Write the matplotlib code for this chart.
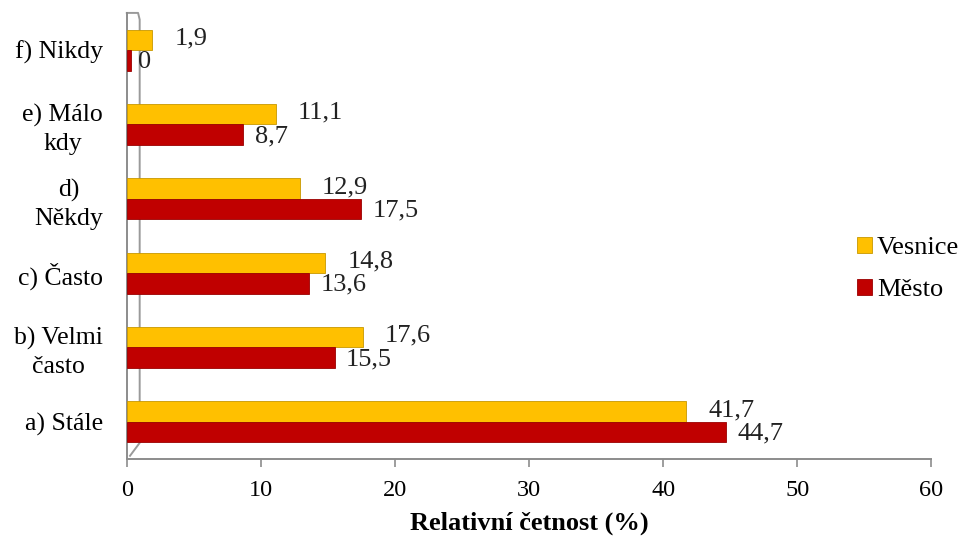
import matplotlib.pyplot as plt
import numpy as np

plt.rcParams['font.family'] = ['Liberation Serif', 'DejaVu Serif']

categories = ['a) Stále', 'b) Velmi\nčasto', 'c) Často', 'd)\nNěkdy', 'e) Málo\nkdy', 'f) Nikdy']
vesnice = [41.7, 17.6, 14.8, 12.9, 11.1, 1.9]
mesto = [44.7, 15.5, 13.6, 17.5, 8.7, 0.0]
vesnice_labels = ['41,7', '17,6', '14,8', '12,9', '11,1', '1,9']
mesto_labels = ['44,7', '15,5', '13,6', '17,5', '8,7', '0']

fs_cat = 18.5
fs_tick = 17.5
fs_big = 19
fig = plt.figure(figsize=(9.68, 5.38), dpi=100)
ax = fig.add_axes([0.131, 0.147, 0.831, 0.829])

y = np.arange(len(categories))
h = 0.276
gray = '#8c8c8c'

# mesto bar for 0 is a thin sliver in the original
mesto_draw = [v if v > 0 else 0.3 for v in mesto]
b1 = ax.barh(y + h / 2, vesnice, height=h, color='#FFC000', edgecolor='#C89800', linewidth=0.6, label='Vesnice', zorder=3)
b2 = ax.barh(y - h / 2, mesto_draw, height=h, color='#C00000', edgecolor='#9A0000', linewidth=0.6, label='Město', zorder=3)

for yi, v, t in zip(y, vesnice, vesnice_labels):
    ax.annotate(t, (v, yi + h / 2), xytext=(16, 1), textcoords='offset points',
                va='center', ha='left', fontsize=fs_big, color='#222222')
for yi, v, t in zip(y, mesto, mesto_labels):
    ax.annotate(t, (v, yi - h / 2), xytext=(8, -1), textcoords='offset points',
                va='center', ha='left', fontsize=fs_big, color='#222222')

ax.set_xlim(0, 60)
ax.set_ylim(-0.5, 5.5)
ax.set_xticks(range(0, 61, 10))
ax.set_yticks(y)
ax.set_yticklabels(categories, multialignment='center', linespacing=1.35)
ax.tick_params(axis='y', length=0, pad=17, labelsize=fs_cat)
ax.tick_params(axis='x', length=6, width=1.2, color=gray, pad=9, labelsize=fs_tick)

for s in ['top', 'right']:
    ax.spines[s].set_visible(False)
ax.spines['left'].set_color(gray)
ax.spines['bottom'].set_color(gray)
ax.spines['left'].set_linewidth(1.4)
ax.spines['bottom'].set_linewidth(1.4)

# 3D wall outline (behind the bars)
ax.plot([0, 0.014, 0.016, 0.016, 0.004], [1, 1, 0.985, 0.036, 0.007],
        transform=ax.transAxes, color='#9a9a9a', lw=1.4, clip_on=False, zorder=1)

ax.set_xlabel('Relativní četnost (%)', fontsize=fs_big, fontweight='bold', labelpad=8)

fig.legend(handles=[b1, b2], loc='center left', bbox_to_anchor=(0.861, 0.5),
           frameon=False, fontsize=fs_big, handlelength=0.55, handleheight=0.55,
           handletextpad=0.2, labelspacing=0.75)

fig.savefig('out.png', dpi=100)
